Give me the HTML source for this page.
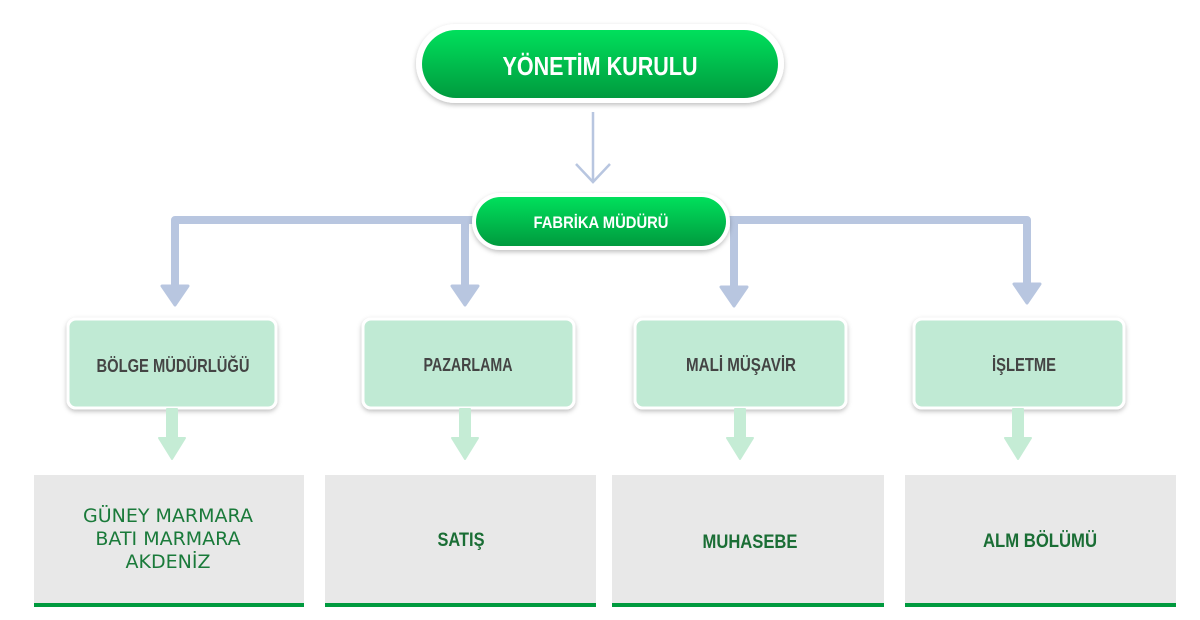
<!DOCTYPE html>
<html><head><meta charset="utf-8"><style>
html,body{margin:0;padding:0;background:#fff;}
svg{display:block}
.c{font-family:"Liberation Sans Narrow","Liberation Sans",sans-serif;font-weight:bold;}
</style></head><body>
<svg width="1200" height="620" viewBox="0 0 1200 620" xmlns="http://www.w3.org/2000/svg">
<defs>
<linearGradient id="g" x1="0" y1="0" x2="0" y2="1">
<stop offset="0" stop-color="#00e05c"/><stop offset="1" stop-color="#009a3e"/>
</linearGradient>
<filter id="sh" x="-10%" y="-20%" width="120%" height="150%"><feDropShadow dx="0" dy="2" stdDeviation="2.5" flood-color="#000" flood-opacity="0.25"/></filter>
</defs>
<rect x="416" y="24" width="368" height="79" rx="39.5" fill="#fff" filter="url(#sh)"/>
<rect x="422" y="30" width="356" height="68" rx="34" fill="url(#g)"/>
<text x="600" y="75" text-anchor="middle" class="c" font-size="26" fill="#fff" textLength="195" lengthAdjust="spacingAndGlyphs">YÖNETİM KURULU</text>
<g stroke="#b8c6e0" stroke-width="2.5" fill="none">
<line x1="593" y1="112" x2="593" y2="181"/>
<polyline points="576,164 593,182 610,164"/>
</g>
<g stroke="#b8c6e0" stroke-width="8" fill="none" stroke-linejoin="round">
<polyline points="476,220 175,220 175,290"/>
<line x1="465" y1="220" x2="465" y2="290"/>
<polyline points="726,220 1027,220 1027,288"/>
<line x1="734" y1="220" x2="734" y2="290"/>
</g>
<g fill="#b8c6e0" stroke="#b8c6e0" stroke-width="3" stroke-linejoin="round">
<polygon points="162,286 188,286 175,305"/>
<polygon points="452,286 478,286 465,305"/>
<polygon points="721,287 747,287 734,306"/>
<polygon points="1014,284 1040,284 1027,303"/>
</g>
<rect x="472" y="193" width="258" height="57" rx="28.5" fill="#fff" filter="url(#sh)"/>
<rect x="476" y="197" width="250" height="49" rx="24.5" fill="url(#g)"/>
<text x="601" y="228" text-anchor="middle" class="c" font-size="17" fill="#fff" textLength="135" lengthAdjust="spacingAndGlyphs">FABRİKA MÜDÜRÜ</text>
<g fill="#c0ead4" stroke="#fff" stroke-width="3" filter="url(#sh)">
<rect x="68" y="319" width="208" height="89" rx="8"/>
<rect x="363" y="319" width="211" height="89" rx="8"/>
<rect x="635" y="319" width="211" height="89" rx="8"/>
<rect x="914" y="319" width="210" height="89" rx="8"/>
</g>
<g class="c" font-size="18" fill="#444" text-anchor="middle">
<text x="173" y="372" textLength="153" lengthAdjust="spacingAndGlyphs">BÖLGE MÜDÜRLÜĞÜ</text>
<text x="468" y="371" textLength="89" lengthAdjust="spacingAndGlyphs">PAZARLAMA</text>
<text x="741" y="371" textLength="110" lengthAdjust="spacingAndGlyphs">MALİ MÜŞAVİR</text>
<text x="1024" y="371" textLength="64" lengthAdjust="spacingAndGlyphs">İŞLETME</text>
</g>
<g fill="#c5ecd5" stroke="#c5ecd5" stroke-width="2" stroke-linejoin="round">
<rect x="167" y="409" width="10" height="29"/><polygon points="159,438 185,438 172,459"/>
<rect x="460" y="409" width="10" height="29"/><polygon points="452,438 478,438 465,459"/>
<rect x="735" y="409" width="10" height="29"/><polygon points="727,438 753,438 740,459"/>
<rect x="1013" y="409" width="10" height="29"/><polygon points="1005,438 1031,438 1018,459"/>
</g>
<g fill="#e8e8e8">
<rect x="34" y="475" width="270" height="129"/>
<rect x="325" y="475" width="271" height="129"/>
<rect x="612" y="475" width="272" height="129"/>
<rect x="905" y="475" width="271" height="129"/>
</g>
<g fill="#009a3e">
<rect x="34" y="603" width="270" height="4"/>
<rect x="325" y="603" width="271" height="4"/>
<rect x="612" y="603" width="272" height="4"/>
<rect x="905" y="603" width="271" height="4"/>
</g>
<g font-family="'DejaVu Sans',sans-serif" font-size="19" fill="#1a7a3a" text-anchor="middle">
<text x="168" y="522">GÜNEY MARMARA</text>
<text x="168" y="545">BATI MARMARA</text>
<text x="168" y="568">AKDENİZ</text>
</g>
<g class="c" font-size="19" fill="#1a6e35" text-anchor="middle">
<text x="461" y="546" textLength="47" lengthAdjust="spacingAndGlyphs">SATIŞ</text>
<text x="750" y="548" textLength="95" lengthAdjust="spacingAndGlyphs">MUHASEBE</text>
<text x="1040" y="547" textLength="114" lengthAdjust="spacingAndGlyphs">ALM BÖLÜMÜ</text>
</g>
</svg>
</body></html>
